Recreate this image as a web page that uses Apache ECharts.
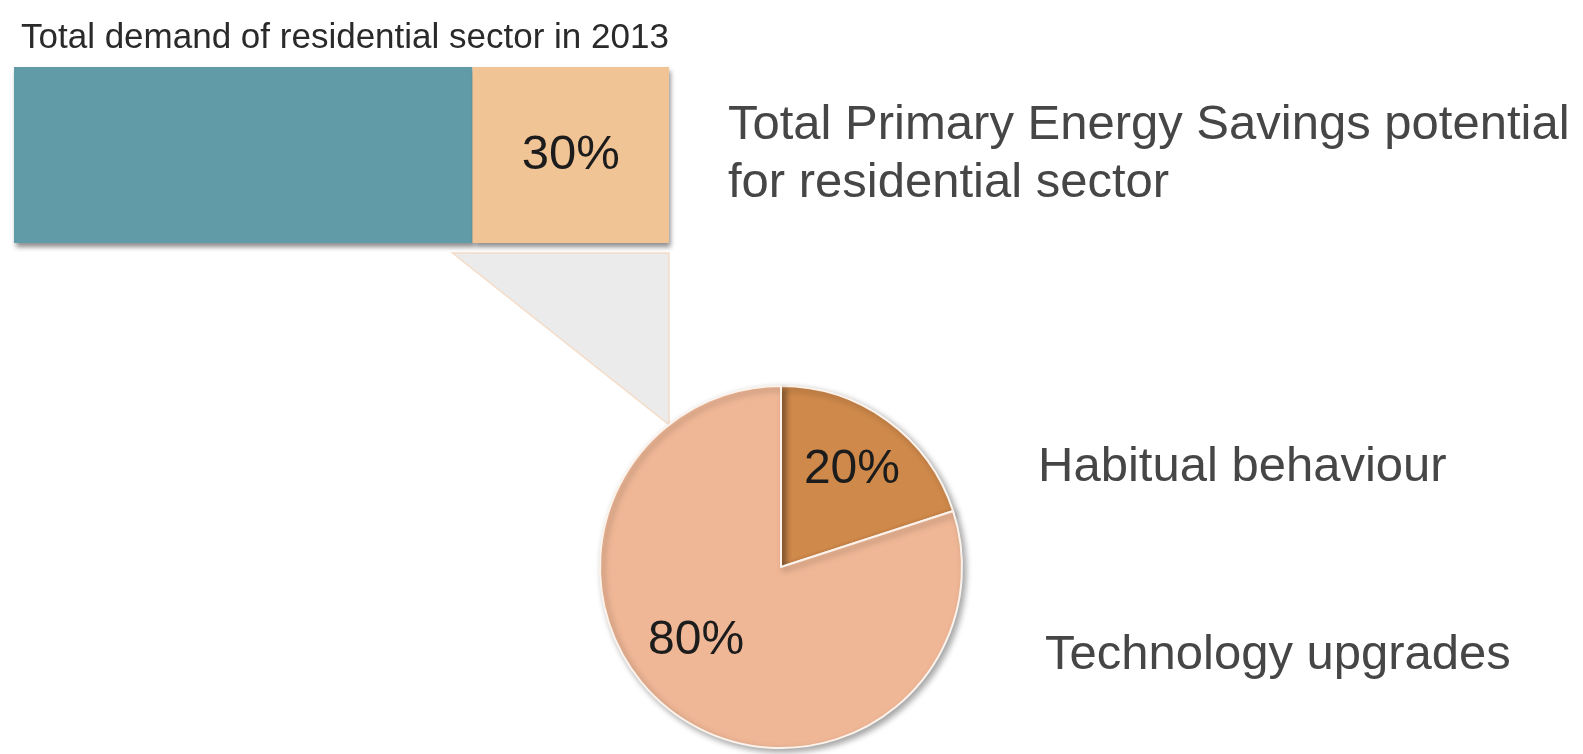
<!DOCTYPE html>
<html>
<head>
<meta charset="utf-8">
<script src="https://cdn.jsdelivr.net/npm/echarts@6/dist/echarts.min.js"></script>
<style>
  html, body { margin: 0; padding: 0; background: #ffffff; }
  #chart { width: 1583px; height: 754px; }
</style>
</head>
<body>
<div id="chart"></div>
<script>
// Residential demand split (share of total, %)
const demandParts = ['Remaining demand', 'Savings potential'];
const demandShares = [70, 30];

// Breakdown of the savings potential (%)
const savingsParts = ['Habitual behaviour', 'Technology upgrades'];
const savingsShares = [20, 80];

const barTitle = 'Total demand of residential sector in 2013';
const savingsTitle = 'Total Primary Energy Savings potential\nfor residential sector';

// Layout and styling
const FONT = '"Liberation Sans", Arial, Helvetica, sans-serif';
const BAR = { left: 14, top: 67, width: 655, height: 176 };
const PIE = { cx: 781, cy: 567, r: 181 };
const demandColors = ['#619ba8', '#f1c496'];
const savingsColors = ['#cf894b', '#efb796'];
const labelColor = '#1c1c1c';
const textColor = '#464646';

const chart = echarts.init(document.getElementById('chart'), null, { renderer: 'canvas' });

const barSeries = demandParts.map((name, i) => ({
  name,
  type: 'bar',
  stack: 'demand',
  barWidth: '100%',
  z: 3,
  data: [demandShares[i]],
  itemStyle: {
    color: demandColors[i],
    shadowColor: 'rgba(0,0,0,0.45)',
    shadowBlur: 5,
    shadowOffsetX: 2,
    shadowOffsetY: 4
  },
  label: {
    show: i === 1,
    position: 'inside',
    formatter: p => p.value + '%',
    fontFamily: FONT,
    fontSize: 49,
    color: labelColor
  }
}));

// Nudges for the in-slice percentage labels
const sliceLabelShift = [{ dx: 8, dy: -11 }, { dx: -15, dy: -1 }];

chart.setOption({
  backgroundColor: '#ffffff',
  animation: false,
  grid: { left: BAR.left, top: BAR.top, width: BAR.width, height: BAR.height, containLabel: false },
  xAxis: { type: 'value', min: 0, max: 100, show: false },
  yAxis: { type: 'category', data: ['2013'], show: false },
  series: [
    ...barSeries,
    {
      name: 'Savings potential breakdown',
      type: 'pie',
      center: [PIE.cx, PIE.cy],
      radius: PIE.r,
      startAngle: 90,
      clockwise: true,
      z: 4,
      data: savingsParts.map((name, i) => ({
        name,
        value: savingsShares[i],
        itemStyle: { color: savingsColors[i] }
      })),
      itemStyle: {
        borderColor: '#fbf3ec',
        borderWidth: 2,
        shadowColor: 'rgba(0,0,0,0.35)',
        shadowBlur: 6,
        shadowOffsetX: 3,
        shadowOffsetY: 3
      },
      label: {
        show: true,
        position: 'inside',
        formatter: p => p.value + '%',
        fontFamily: FONT,
        fontSize: 48,
        color: labelColor
      },
      labelLayout: p => sliceLabelShift[p.dataIndex],
      labelLine: { show: false },
      emphasis: { disabled: true }
    }
  ]
});

// Connector from the savings segment of the bar down to the pie
const segStartX = chart.convertToPixel({ xAxisIndex: 0 }, demandShares[0]);
const barEndX = chart.convertToPixel({ xAxisIndex: 0 }, demandShares[0] + demandShares[1]);
const connTop = BAR.top + BAR.height + 10;
const connBottomY = PIE.cy - Math.sqrt(PIE.r * PIE.r - Math.pow(barEndX - PIE.cx, 2));

chart.setOption({
  graphic: [
    {
      type: 'polygon',
      z: 1,
      shape: { points: [[segStartX - 20, connTop], [barEndX, connTop], [barEndX, connBottomY]] },
      style: { fill: '#ebebeb', stroke: '#f5dcc7', lineWidth: 1.5 }
    },
    {
      type: 'text',
      left: 21, top: 21,
      style: { text: barTitle, font: '35px ' + FONT, fill: '#2a2a2a' }
    },
    {
      type: 'text',
      left: 728, top: 96,
      style: { text: savingsTitle, font: '49px ' + FONT, lineHeight: 58, fill: textColor }
    },
    {
      type: 'text',
      left: 1038, top: 443,
      style: { text: savingsParts[0], font: '49px ' + FONT, fill: textColor }
    },
    {
      type: 'text',
      left: 1045, top: 631,
      style: { text: savingsParts[1], font: '49px ' + FONT, fill: textColor }
    }
  ]
});
</script>
</body>
</html>
